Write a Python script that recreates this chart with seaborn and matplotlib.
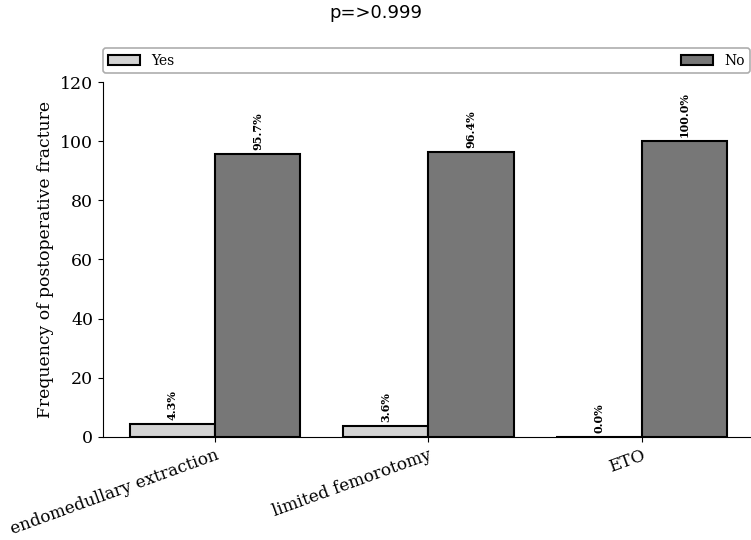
import matplotlib
matplotlib.use("Agg")
import matplotlib.pyplot as plt
import seaborn as sns
import pandas as pd

groups = ["endomedullary extraction", "limited femorotomy", "ETO"]
yes_vals = [4.3, 3.6, 0.0]
no_vals = [95.7, 96.4, 100.0]

df = pd.DataFrame({
    "group": groups * 2,
    "answer": ["Yes"] * 3 + ["No"] * 3,
    "freq": yes_vals + no_vals,
})

sns.set_style("ticks")
plt.rcParams["font.family"] = ["DejaVu Serif"]
plt.rcParams["text.color"] = "black"
plt.rcParams["axes.labelcolor"] = "black"
plt.rcParams["xtick.color"] = "black"
plt.rcParams["ytick.color"] = "black"
plt.rcParams["axes.edgecolor"] = "black"

fig = plt.figure(figsize=(7.51, 5.40), dpi=100)
ax = fig.add_axes([0.137, 0.191, 0.862, 0.657])
sns.barplot(data=df, x="group", y="freq", hue="answer",
            palette={"Yes": "#d3d3d3", "No": "#777777"},
            edgecolor="black", linewidth=1.5, width=0.8, ax=ax)

for cont in ax.containers:
    for bar in cont:
        h = bar.get_height()
        ax.annotate(f"{h:.1f}%", (bar.get_x() + bar.get_width() / 2, h),
                    xytext=(0, 3), textcoords="offset points",
                    ha="center", va="bottom", rotation=90,
                    fontsize=8, fontweight="bold")

ax.set_ylim(0, 120)
ax.set_xlim(-0.526, 2.51)
ax.set_xlabel("")
ax.set_ylabel("Frequency of postoperative fracture", fontsize=12.4)
ax.tick_params(axis="both", labelsize=12.5)
plt.setp(ax.get_xticklabels(), rotation=20, ha="right", rotation_mode="anchor",
         fontsize=12.2)
sns.despine(ax=ax)

leg = ax.legend(bbox_to_anchor=(0, 1.025, 1, 0.07), loc="lower left", ncol=2,
                mode="expand", borderaxespad=0, fontsize=10,
                handlelength=2.3, handleheight=0.7)
leg.get_frame().set_edgecolor("#999999")
leg.get_frame().set_linewidth(1.2)

fig.text(0.5, 0.975, "p=>0.999", ha="center", va="center",
         fontsize=13, family="DejaVu Sans")

plt.savefig("out.png", dpi=100)
